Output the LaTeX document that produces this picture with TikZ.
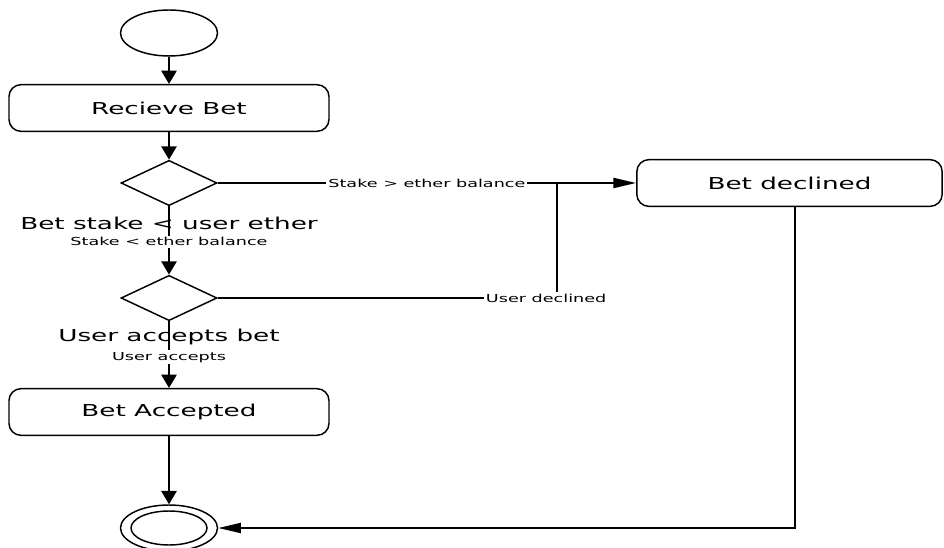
\documentclass[tikz,border=0pt]{standalone}
\usepackage{fontspec}
\setmainfont[FakeStretch=1.6]{DejaVu Sans}
\usetikzlibrary{shapes.geometric,arrows.meta}

\tikzset{
  state/.style={draw,line width=1.1pt,rounded corners=9pt,minimum width=240pt,minimum height=35pt,inner sep=0pt,font=\fontsize{12.3}{14}\selectfont},
  choice/.style={draw,diamond,line width=1.1pt,minimum width=72pt,minimum height=34pt,inner sep=0pt},
  initial/.style={draw,ellipse,line width=1.1pt,minimum width=72.75pt,minimum height=34.5pt,inner sep=0pt},
  flowv/.style={line width=1.5pt,-{Triangle[length=10pt,width=11.5pt]}},
  flowh/.style={line width=1.5pt,-{Triangle[length=17pt,width=7.5pt]}},
  guard/.style={font=\fontsize{12.3}{14}\selectfont,inner sep=0pt},
  cond/.style={font=\fontsize{8.25}{10}\selectfont,fill=white,inner sep=1.5pt}
}

\begin{document}
\begin{tikzpicture}[x=0.75pt,y=0.75pt,yscale=-1,xscale=1]
%set diagram left start at 0, and has height of 548
\useasboundingbox (0,0) rectangle (944,548);

%Shape: Ellipse [start]
\node[initial] (start) at (169,33) {};
%Shape: Rounded Rect
\node[state] (recv) at (169,108) {Recieve Bet};
%Shape: Diamond
\node[choice] (stakechk) at (169,183) {};
%Shape: Diamond
\node[choice] (acceptchk) at (169,298) {};
%Shape: Rounded Rect
\node[state] (accepted) at (169,412) {Bet Accepted};
%Shape: Rounded Rect
\node[state,minimum width=229pt] (declined) at (789.5,183) {Bet declined};
%Shape: Ellipse [final]
\node[initial] (finish) at (169,528) {};
\draw[line width=1.1pt] (finish.center) ellipse [x radius=38, y radius=17];

\coordinate (merge) at (557,183);

%Straight Lines
\draw[flowv] (start) -- (recv);
\draw[flowv] (recv) -- (stakechk);
\draw[flowv] (stakechk) -- (acceptchk)
  node[guard,pos=0.25] {Bet stake < user ether}
  node[cond,pos=0.52] {Stake < ether balance};
\draw[flowv] (acceptchk) -- (accepted)
  node[guard,pos=0.24] {User accepts bet}
  node[cond,pos=0.54] {User accepts};
\draw[flowv] (accepted) -- (finish);
%Straight Lines
\draw[flowh] (stakechk) -- (declined) node[cond,pos=0.5] {Stake > ether balance};
\draw[line width=1.5pt] (acceptchk) -| (merge) node[cond,pos=0.484] {User declined};
\draw[flowh] ([xshift=4pt]declined.south) |- (finish);

\end{tikzpicture}
\end{document}
